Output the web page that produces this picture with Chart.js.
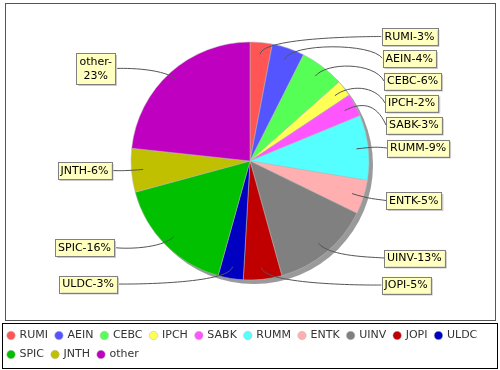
<!DOCTYPE html>
<html>
<head>
<meta charset="utf-8">
<script src="https://cdn.jsdelivr.net/npm/chart.js@4"></script>
<style>
  body { margin: 0; background: #fff; }
  canvas { display: block; }
</style>
</head>
<body>
<canvas id="pieChart" width="500" height="370"></canvas>
<script>
// Shares (percent)
const categories = ['RUMI', 'AEIN', 'CEBC', 'IPCH', 'SABK', 'RUMM', 'ENTK', 'UINV', 'JOPI', 'ULDC', 'SPIC', 'JNTH', 'other'];
const shares = [3.0, 4.4, 6.0, 2.2, 3.1, 8.8, 4.6, 13.4, 5.2, 3.4, 16.4, 5.9, 23.2];
const sliceColors = ['#ff5555', '#5555ff', '#55ff55', '#ffff55', '#ff55ff', '#55ffff', '#ffafaf', '#808080', '#c00000', '#0000c0', '#00c000', '#c0c000', '#c000c0'];

// where each label box sits: x = edge facing the pie, y = box centre
const labelSpots = [
    { side: 'right', x: 381.5, y: 36.5 },
    { side: 'right', x: 382.5, y: 58.5 },
    { side: 'right', x: 384, y: 81 },
    { side: 'right', x: 385, y: 103 },
    { side: 'right', x: 386, y: 125 },
    { side: 'right', x: 387, y: 148 },
    { side: 'right', x: 386, y: 200.5 },
    { side: 'right', x: 384, y: 258 },
    { side: 'right', x: 381.5, y: 285 },
    { side: 'left', x: 117, y: 284 },
    { side: 'left', x: 114, y: 247.5 },
    { side: 'left', x: 111.5, y: 170.5 },
    { side: 'left', x: 115, y: 68.5, wrap: true }
];

const total = shares.reduce((a, b) => a + b, 0);
const labelFont = '11px "DejaVu Sans"';

Chart.defaults.font.family = '"DejaVu Sans"';

const piePlot = {
    id: 'piePlot',
    beforeDraw(chart) {
        const ctx = chart.ctx;
        ctx.save();
        ctx.fillStyle = '#fff';
        ctx.fillRect(0, 0, chart.width, chart.height);
        ctx.strokeStyle = '#555';
        ctx.lineWidth = 1;
        ctx.strokeRect(5.5, 3.5, 490, 317);
        const lg = chart.legend;
        ctx.strokeStyle = '#000';
        ctx.strokeRect(2.5, lg.top + 1.5, 495, lg.bottom - lg.top - 3);
        ctx.restore();
    },
    beforeDatasetsDraw(chart) {
        const ctx = chart.ctx;
        const arc = chart.getDatasetMeta(0).data[0];
        const { x, y, outerRadius } = arc.getProps(['x', 'y', 'outerRadius'], true);
        ctx.save();
        ctx.fillStyle = '#9a9a9a';
        ctx.beginPath();
        ctx.arc(x + 4, y + 4, outerRadius, 0, Math.PI * 2);
        ctx.fill();
        ctx.restore();
    },
    afterDatasetsDraw(chart) {
        const ctx = chart.ctx;
        const meta = chart.getDatasetMeta(0);
        ctx.save();
        // links first
        ctx.strokeStyle = '#555';
        ctx.lineWidth = 1;
        meta.data.forEach((arc, i) => {
            const p = arc.getProps(['x', 'y', 'startAngle', 'endAngle', 'outerRadius'], true);
            const mid = (p.startAngle + p.endAngle) / 2;
            const lx = p.x + Math.cos(mid) * p.outerRadius * 0.9;
            const ly = p.y + Math.sin(mid) * p.outerRadius * 0.9;
            const ex = p.x + Math.cos(mid) * p.outerRadius * 1.05;
            const ey = p.y + Math.sin(mid) * p.outerRadius * 1.05;
            const spot = labelSpots[i];
            const ax = spot.side === 'right' ? spot.x - 10 : spot.x + 10;
            ctx.beginPath();
            ctx.moveTo(lx, ly);
            ctx.bezierCurveTo(ex, ey, ax, ey, spot.x, spot.y);
            ctx.stroke();
        });
        // label boxes
        ctx.font = labelFont;
        ctx.textBaseline = 'middle';
        ctx.textAlign = 'center';
        categories.forEach((cat, i) => {
            const pct = Math.round(shares[i] / total * 100) + '%';
            const spot = labelSpots[i];
            const lines = spot.wrap ? [cat + '-', pct] : [cat + '-' + pct];
            const w = Math.max(...lines.map(l => ctx.measureText(l).width)) + 6;
            const h = lines.length * 14 + 3;
            const left = spot.side === 'right' ? spot.x : spot.x - w;
            const top = spot.y - h / 2;
            ctx.fillStyle = '#c8c8c8';
            ctx.fillRect(left + 2, top + 2, w, h);
            ctx.fillStyle = '#ffffc0';
            ctx.fillRect(left, top, w, h);
            ctx.strokeStyle = '#808080';
            ctx.strokeRect(Math.round(left) + 0.5, Math.round(top) + 0.5, Math.round(w), Math.round(h));
            ctx.fillStyle = '#000';
            lines.forEach((l, k) => {
                ctx.fillText(l, left + w / 2, top + 2 + 7 + k * 14);
            });
        });
        ctx.restore();
    }
};

new Chart(document.getElementById('pieChart'), {
    type: 'pie',
    data: {
        labels: categories,
        datasets: [{
            data: shares,
            backgroundColor: sliceColors,
            borderColor: '#bbbbbb',
            borderWidth: 0.5,
            radius: 119
        }]
    },
    options: {
        responsive: false,
        animation: false,
        layout: { padding: 0 },
        plugins: {
            tooltip: { enabled: false },
            legend: {
                position: 'bottom',
                align: 'start',
                labels: {
                    usePointStyle: true,
                    pointStyle: 'circle',
                    boxWidth: 6,
                    boxHeight: 6,
                    padding: 8,
                    color: '#333',
                    font: { size: 11 }
                }
            }
        }
    },
    plugins: [piePlot]
});
</script>
</body>
</html>
